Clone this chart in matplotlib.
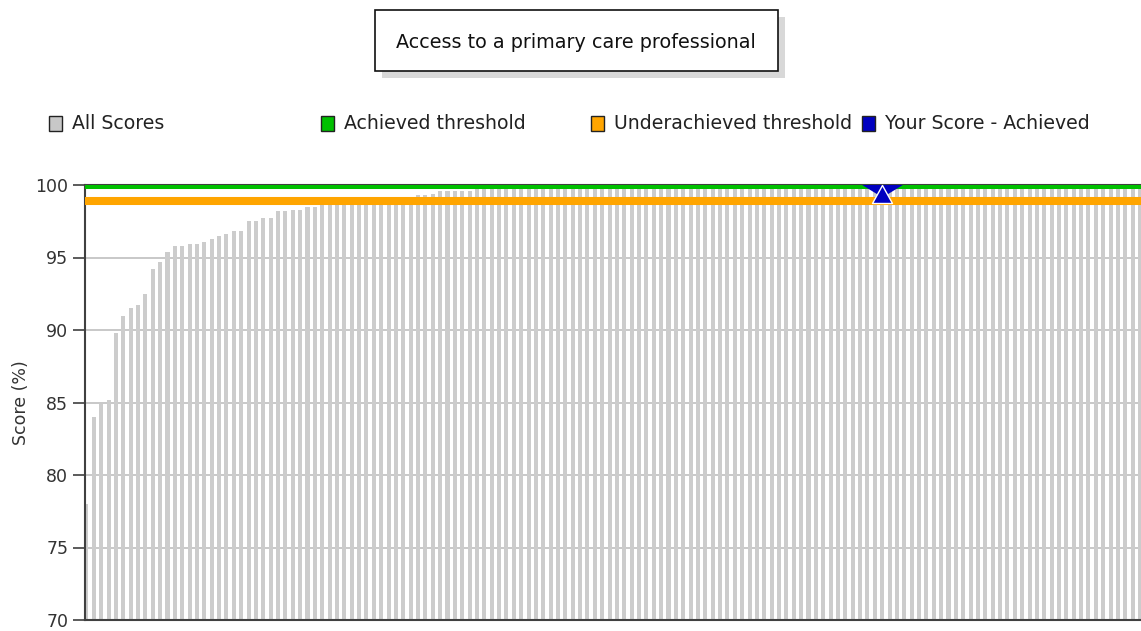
import matplotlib
matplotlib.use("Agg")
import matplotlib.pyplot as plt
from matplotlib.patches import Rectangle
from matplotlib.path import Path

# practice scores, sorted ascending (one bar per practice)
scores = [
    78.0, 84.0, 84.9, 85.2, 89.8, 91.0, 91.5, 91.7, 92.5, 94.2,
    94.7, 95.4, 95.8, 95.8, 95.9, 95.9, 96.1, 96.3, 96.5, 96.6,
    96.8, 96.8, 97.5, 97.5, 97.7, 97.7, 98.2, 98.2, 98.3, 98.3,
    98.5, 98.5, 98.7, 98.7, 98.8, 98.8, 98.9, 98.9, 99.0, 99.0,
    99.0, 99.1, 99.1, 99.2, 99.2, 99.3, 99.3, 99.4, 99.6, 99.6,
    99.6, 99.6, 99.6,
] + [100.0] * 91
ranks = list(range(len(scores)))

achieved_threshold = 99.86
underachieved_threshold = 98.93
your_rank = 108
your_score = 100.0

title = "Access to a primary care professional"
legend_labels = ["All Scores", "Achieved threshold", "Underachieved threshold", "Your Score - Achieved"]
legend_colors = ["#c8c8c8", "#00c000", "#ffa500", "#0000c0"]
yticks = [70, 75, 80, 85, 90, 95, 100]

W, H = 1141, 631
fig = plt.figure(figsize=(W / 100, H / 100), dpi=100)


def fx(px):
    return px / W


def fy(py):
    return 1 - py / H


ax = fig.add_axes([fx(85), fy(620), fx(1141) - fx(85), fy(185) - fy(620)])

ax.bar(ranks, scores, width=0.55, color="#cccccc", zorder=2)
ax.set_ylim(70, 100)
ax.set_xlim(-0.2, 143.13)
ax.set_yticks(yticks)
ax.set_xticks([])
ax.yaxis.grid(True, color="#c4c4c4", lw=1.3, zorder=1)
ax.set_axisbelow(True)

ax.axhline(achieved_threshold, color="#00c000", lw=2.9, zorder=4)
ax.axhline(underachieved_threshold, color="#ffa500", lw=5.8, zorder=4)

# score marker: wide notch clipped at the top plus an upward arrow head
notch = Path([(-26, 4), (26, 4), (0, -12), (-26, 4)], closed=True)
head = Path([(0, 0), (-10, -18), (10, -18), (0, 0)], closed=True)
ax.plot([your_rank], [your_score], marker=notch, ms=37.4, color="#0000c0",
        mec="#0000c0", mew=0, zorder=5)
ax.plot([your_rank], [your_score], marker=head, ms=25.9, color="#0000c0",
        mec="white", mew=1.0, zorder=6, clip_on=False)

for side in ["left", "bottom", "top"]:
    ax.spines[side].set_color("#404040")
    ax.spines[side].set_linewidth(1.5)
ax.spines["right"].set_visible(False)
ax.tick_params(axis="y", length=9, width=1.2, color="#404040",
               labelsize=12.5, labelcolor="#333333", pad=3)
ax.set_ylabel("Score (%)", fontsize=12.5, color="#333333")
ax.yaxis.set_label_coords((30 - 85) / 1056, 0.5)

# title box with drop shadow
fig.add_artist(Rectangle((fx(382), fy(78)), fx(403), fy(10) - fy(71),
                         transform=fig.transFigure, color="#d8d8d8", lw=0))
fig.add_artist(Rectangle((fx(375), fy(71)), fx(403), fy(10) - fy(71),
                         transform=fig.transFigure, facecolor="white",
                         edgecolor="#111111", lw=1.2))
fig.text(fx(576), fy(42), title, ha="center", va="center", fontsize=13.8,
         color="#111111")

# legend row
for x0, label, color in zip([49, 321, 591, 862], legend_labels, legend_colors):
    fig.add_artist(Rectangle((fx(x0), fy(131)), fx(13), fy(116) - fy(131),
                             transform=fig.transFigure, facecolor=color,
                             edgecolor="#222222", lw=1.0))
    fig.text(fx(x0 + 23), fy(123.5), label, ha="left", va="center",
             fontsize=13.6, color="#222222")

fig.savefig("out.png", dpi=100)
